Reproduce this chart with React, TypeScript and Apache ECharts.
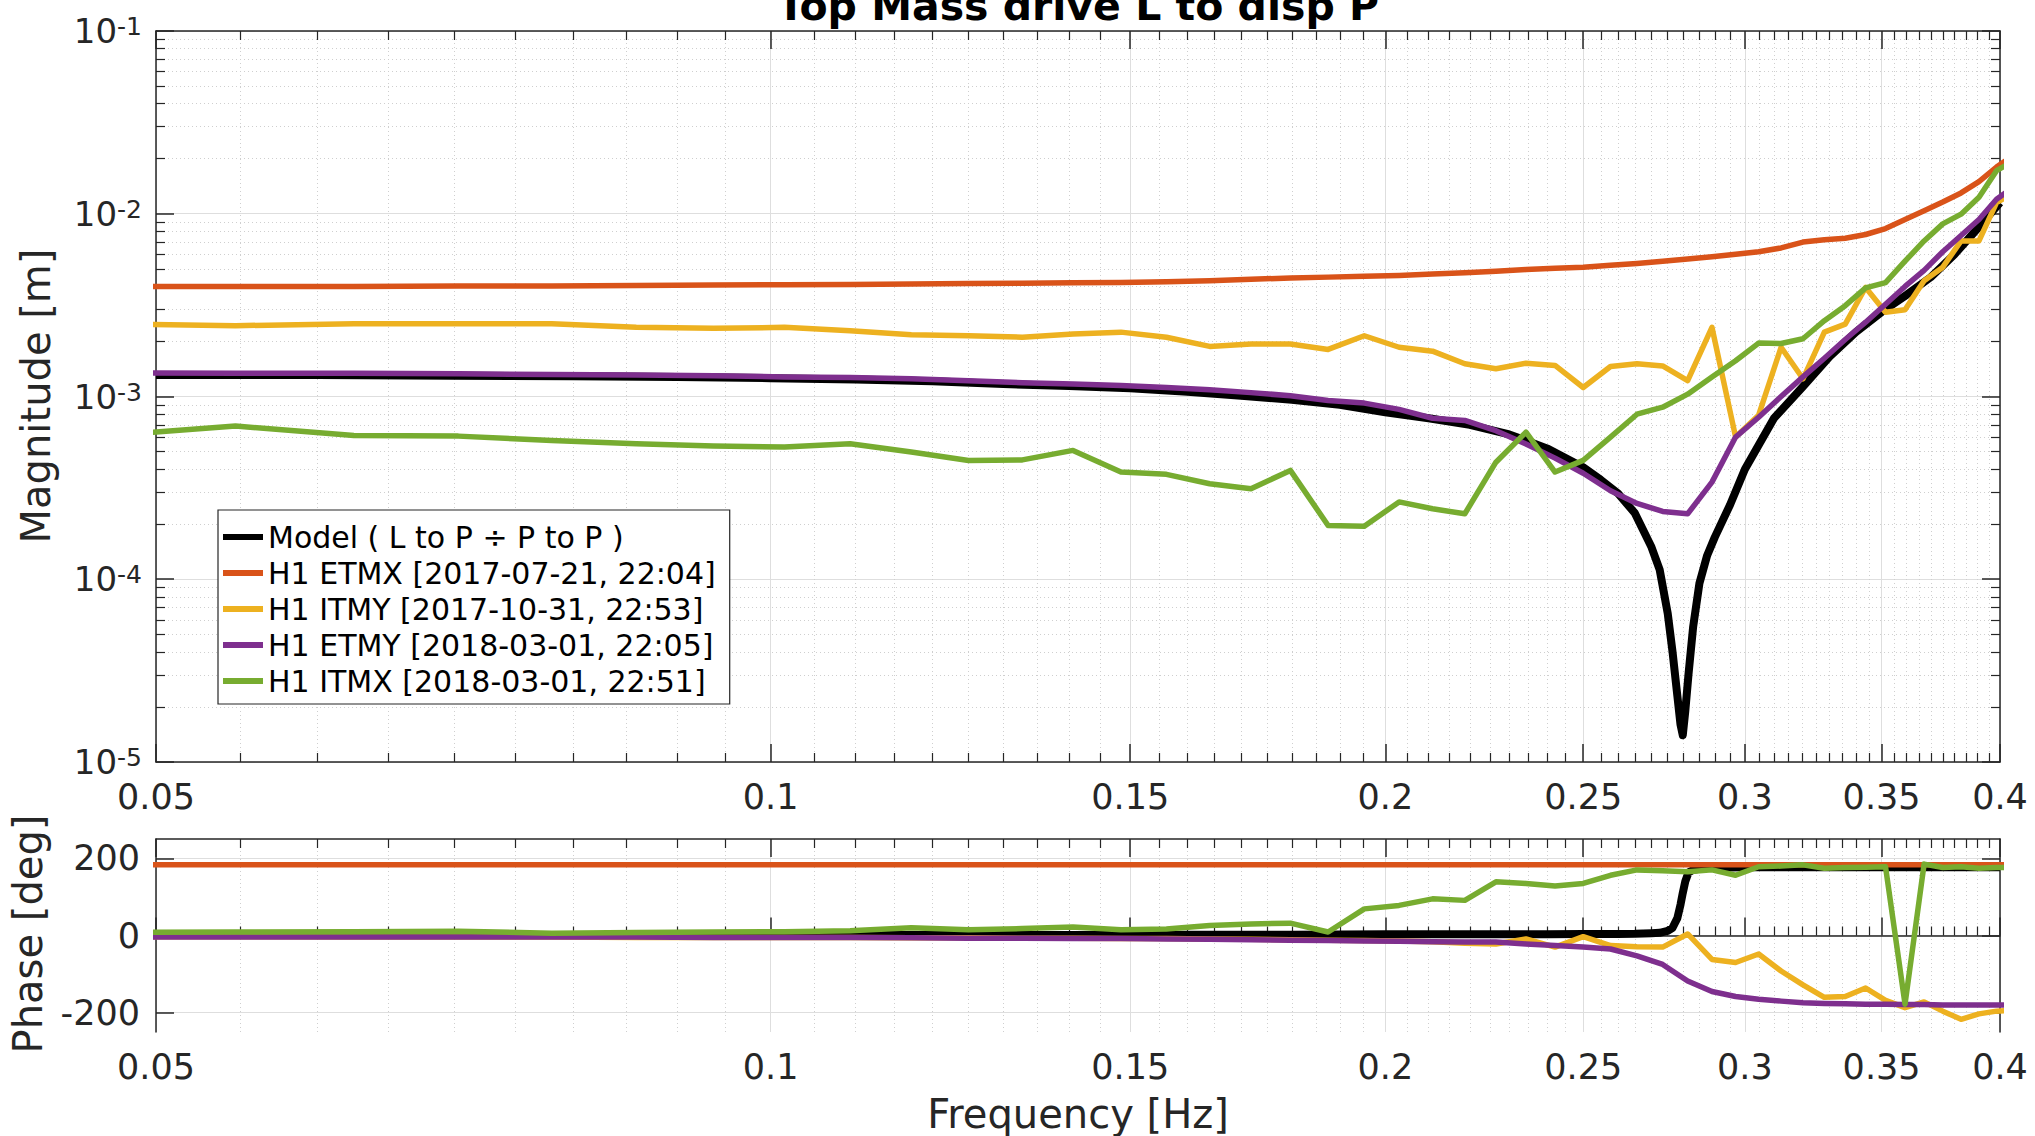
import React, { useEffect, useRef } from 'react';
import * as echarts from 'echarts';

const FONT = 'DejaVu Sans';
const INK = '#262626';

// ---------- data ----------
const seriesNames = [
  'Model ( L to P \u00f7 P to P )',
  'H1 ETMX [2017-07-21, 22:04]',
  'H1 ITMY [2017-10-31, 22:53]',
  'H1 ETMY [2018-03-01, 22:05]',
  'H1 ITMX [2018-03-01, 22:51]',
];
const seriesColors = ['#000000', '#D95319', '#EDB120', '#7E2F8E', '#77AC30'];

const modelFreq = [0.05, 0.06, 0.07, 0.08, 0.09, 0.1, 0.11, 0.12, 0.13, 0.14,
  0.15, 0.16, 0.17, 0.18, 0.19, 0.2, 0.21, 0.22, 0.23, 0.24,
  0.25, 0.255, 0.26, 0.265, 0.27, 0.2725, 0.275, 0.2765, 0.278, 0.279,
  0.2797, 0.2805, 0.2815, 0.283, 0.285, 0.2875, 0.29, 0.295, 0.3, 0.31,
  0.32, 0.33, 0.34, 0.35, 0.36, 0.37, 0.38, 0.39, 0.4];
const modelMag = [1.31e-3, 1.31e-3, 1.30e-3, 1.29e-3, 1.28e-3, 1.26e-3, 1.24e-3, 1.21e-3, 1.17e-3, 1.14e-3,
  1.11e-3, 1.06e-3, 1.01e-3, 9.6e-4, 9.0e-4, 8.2e-4, 7.6e-4, 7.0e-4, 6.2e-4, 5.2e-4,
  4.1e-4, 3.5e-4, 2.95e-4, 2.3e-4, 1.5e-4, 1.13e-4, 6.5e-5, 4.0e-5, 2.3e-5, 1.6e-5,
  1.4e-5, 1.9e-5, 3.0e-5, 5.5e-5, 9.5e-5, 1.35e-4, 1.7e-4, 2.55e-4, 4.0e-4, 7.6e-4,
  1.12e-3, 1.65e-3, 2.25e-3, 2.9e-3, 3.6e-3, 4.5e-3, 6.0e-3, 8.3e-3, 1.15e-2];
const modelPhase = [1, 1, 1, 1, 1, 1, 1, 1.5, 1.5, 1.5,
  2, 2, 2, 2, 2.5, 3, 3, 3, 3, 3.5,
  4, 4, 4, 4.5, 6, 7, 12, 20, 45, 80,
  110, 140, 163, 170, 173, 175, 176, 176, 177, 177,
  177, 177, 177, 177, 177, 177, 177, 177, 177];

const measFreq = [0.046875, 0.0546875, 0.0625, 0.0703125, 0.078125, 0.0859375, 0.09375, 0.1015625, 0.109375, 0.1171875,
  0.125, 0.1328125, 0.140625, 0.1484375, 0.15625, 0.1640625, 0.171875, 0.1796875, 0.1875, 0.1953125,
  0.203125, 0.2109375, 0.21875, 0.2265625, 0.234375, 0.2421875, 0.25, 0.2578125, 0.265625, 0.2734375,
  0.28125, 0.2890625, 0.296875, 0.3046875, 0.3125, 0.3203125, 0.328125, 0.3359375, 0.34375, 0.3515625,
  0.359375, 0.3671875, 0.375, 0.3828125, 0.390625, 0.3984375, 0.40625];

const etmxMag = [4.0e-3, 4.0e-3, 4.0e-3, 4.02e-3, 4.03e-3, 4.05e-3, 4.07e-3, 4.09e-3, 4.1e-3, 4.13e-3,
  4.15e-3, 4.17e-3, 4.19e-3, 4.21e-3, 4.25e-3, 4.3e-3, 4.38e-3, 4.45e-3, 4.5e-3, 4.55e-3,
  4.6e-3, 4.68e-3, 4.76e-3, 4.85e-3, 4.95e-3, 5.03e-3, 5.1e-3, 5.22e-3, 5.35e-3, 5.5e-3,
  5.65e-3, 5.82e-3, 6.0e-3, 6.2e-3, 6.5e-3, 7.0e-3, 7.2e-3, 7.35e-3, 7.7e-3, 8.3e-3,
  9.3e-3, 1.04e-2, 1.16e-2, 1.3e-2, 1.5e-2, 1.8e-2, 2.1e-2];
const etmxPhase = [183, 183, 183, 183, 183, 183, 183, 183, 183, 183,
  183, 183, 183, 183, 183, 183, 183, 183, 183, 183,
  183, 183, 183, 183, 183, 183, 183, 183, 183, 183,
  183, 183, 183, 183, 183, 183, 183, 183, 183, 183,
  183, 183, 183, 183, 183, 183, 183];

const itmyMag = [2.5e-3, 2.44e-3, 2.5e-3, 2.5e-3, 2.5e-3, 2.39e-3, 2.36e-3, 2.39e-3, 2.29e-3, 2.18e-3,
  2.15e-3, 2.11e-3, 2.2e-3, 2.25e-3, 2.11e-3, 1.88e-3, 1.94e-3, 1.94e-3, 1.81e-3, 2.15e-3,
  1.86e-3, 1.77e-3, 1.51e-3, 1.42e-3, 1.52e-3, 1.48e-3, 1.12e-3, 1.46e-3, 1.51e-3, 1.47e-3,
  1.22e-3, 2.39e-3, 6.0e-4, 7.9e-4, 1.86e-3, 1.25e-3, 2.25e-3, 2.49e-3, 3.95e-3, 2.89e-3,
  2.98e-3, 4.3e-3, 5.1e-3, 7.1e-3, 7.1e-3, 1.15e-2, 1.3e-2];
const itmyPhase = [-3, -3, -4, -4, -4, -5, -5, -5, -5, -6,
  -6, -7, -7, -8, -8, -9, -10, -11, -12, -13,
  -14, -16, -20, -22, -9, -30, -3, -26, -29, -30,
  4, -62, -70, -48, -92, -128, -160, -158, -136, -168,
  -187, -172, -196, -217, -203, -196, -194];

const etmyMag = [1.35e-3, 1.34e-3, 1.34e-3, 1.33e-3, 1.32e-3, 1.31e-3, 1.30e-3, 1.28e-3, 1.27e-3, 1.25e-3,
  1.22e-3, 1.19e-3, 1.17e-3, 1.15e-3, 1.12e-3, 1.09e-3, 1.05e-3, 1.01e-3, 9.5e-4, 9.2e-4,
  8.5e-4, 7.6e-4, 7.4e-4, 6.5e-4, 5.5e-4, 4.6e-4, 3.8e-4, 3.05e-4, 2.6e-4, 2.35e-4,
  2.28e-4, 3.4e-4, 6.0e-4, 7.7e-4, 1.0e-3, 1.28e-3, 1.62e-3, 2.05e-3, 2.55e-3, 3.2e-3,
  4.0e-3, 4.9e-3, 6.2e-3, 7.6e-3, 9.3e-3, 1.2e-2, 1.4e-2];
const etmyPhase = [-4, -4, -4, -4, -4, -4, -5, -5, -5, -6,
  -7, -7, -8, -8, -9, -10, -11, -12, -13, -14,
  -15, -16, -17, -17, -22, -26, -30, -35, -53, -75,
  -118, -145, -158, -165, -170, -174, -176, -177, -178, -178,
  -179, -179, -180, -180, -180, -180, -180];

const itmxMag = [6.05e-4, 6.89e-4, 6.12e-4, 6.07e-4, 5.75e-4, 5.52e-4, 5.36e-4, 5.29e-4, 5.52e-4, 4.97e-4,
  4.47e-4, 4.5e-4, 5.07e-4, 3.86e-4, 3.75e-4, 3.33e-4, 3.13e-4, 3.94e-4, 1.97e-4, 1.95e-4,
  2.65e-4, 2.43e-4, 2.28e-4, 4.37e-4, 6.38e-4, 3.86e-4, 4.47e-4, 6.0e-4, 8.0e-4, 8.74e-4,
  1.03e-3, 1.28e-3, 1.57e-3, 1.96e-3, 1.95e-3, 2.07e-3, 2.6e-3, 3.14e-3, 3.93e-3, 4.2e-3,
  5.5e-3, 7.1e-3, 8.8e-3, 9.95e-3, 1.23e-2, 1.72e-2, 1.95e-2];
const itmxPhase = [8, 9, 10, 11, 6, 8, 9, 10, 12, 20,
  15, 18, 22, 15, 17, 26, 30, 32, 9, 69,
  78, 95, 91, 139, 135, 128, 135, 156, 170, 168,
  165, 170, 156, 178, 180, 183, 174, 176, 177, 178,
  -178, 185, 176, 178, 174, 176, 176];

// ---------- axes ticks ----------
const xMajorTicks = [0.05, 0.1, 0.15, 0.2, 0.25, 0.3, 0.35, 0.4];
const xTickLabels = ['0.05', '0.1', '0.15', '0.2', '0.25', '0.3', '0.35', '0.4'];
const xMinorTicks = [0.055, 0.06, 0.065, 0.07, 0.075, 0.08, 0.085, 0.09, 0.095,
  0.105, 0.11, 0.115, 0.12, 0.125, 0.13, 0.135, 0.14, 0.145,
  0.155, 0.16, 0.165, 0.17, 0.175, 0.18, 0.185, 0.19, 0.195,
  0.205, 0.21, 0.215, 0.22, 0.225, 0.23, 0.235, 0.24, 0.245,
  0.255, 0.26, 0.265, 0.27, 0.275, 0.28, 0.285, 0.29, 0.295,
  0.305, 0.31, 0.315, 0.32, 0.325, 0.33, 0.335, 0.34, 0.345,
  0.355, 0.36, 0.365, 0.37, 0.375, 0.38, 0.385, 0.39, 0.395];
const magMajorTicks = [1e-5, 1e-4, 1e-3, 1e-2, 1e-1];
const magTickExponents = ['-5', '-4', '-3', '-2', '-1'];
const magMinorTicks = [
  2e-5, 3e-5, 4e-5, 5e-5, 6e-5, 7e-5, 8e-5, 9e-5,
  2e-4, 3e-4, 4e-4, 5e-4, 6e-4, 7e-4, 8e-4, 9e-4,
  2e-3, 3e-3, 4e-3, 5e-3, 6e-3, 7e-3, 8e-3, 9e-3,
  2e-2, 3e-2, 4e-2, 5e-2, 6e-2, 7e-2, 8e-2, 9e-2];
const phaseTicks = [-200, 0, 200];
const phaseTickLabels = ['-200', '0', '200'];

// ---------- option ----------
const pairs = (xs: number[], ys: number[]) => xs.map((x, i) => [x, ys[i]]);
const near = (a: number, b: number) => Math.abs(a - b) <= 1e-9 + Math.abs(b) * 1e-6;

const axisLineStyle = { color: INK, width: 1.5 };
const majorGrid = { color: '#dedede', width: 1 };
const minorGrid = { color: '#cfcfcf', width: 1, type: [1, 3] as any };

function xAxesFor(gridIndex: number) {
  const base = { type: 'log', logBase: 10, min: 0.05, max: 0.4, gridIndex, axisPointer: { show: false } };
  return [
    {
      ...base, position: 'bottom',
      axisLine: { show: true, lineStyle: axisLineStyle },
      axisTick: { show: true, inside: true, length: 18, customValues: xMajorTicks, lineStyle: axisLineStyle },
      axisLabel: {
        show: true, customValues: xMajorTicks, showMinLabel: true, showMaxLabel: true,
        formatter: (v: number) => { const i = xMajorTicks.findIndex(t => near(v, t)); return i < 0 ? '' : xTickLabels[i]; },
        fontFamily: FONT, fontSize: 35, color: INK, margin: 17,
      },
      splitLine: { show: true, customValues: xMajorTicks, lineStyle: majorGrid },
    },
    {
      ...base, position: 'bottom',
      axisLine: { show: false },
      axisTick: { show: true, inside: true, length: 9, customValues: xMinorTicks, lineStyle: { color: INK, width: 1.2 } },
      axisLabel: { show: false },
      splitLine: { show: true, customValues: xMinorTicks, lineStyle: minorGrid },
    },
    {
      ...base, position: 'top',
      axisLine: { show: true, lineStyle: axisLineStyle },
      axisTick: { show: true, inside: true, length: 18, customValues: xMajorTicks, lineStyle: axisLineStyle },
      axisLabel: { show: false },
      splitLine: { show: false },
    },
    {
      ...base, position: 'top',
      axisLine: { show: false },
      axisTick: { show: true, inside: true, length: 9, customValues: xMinorTicks, lineStyle: { color: INK, width: 1.2 } },
      axisLabel: { show: false },
      splitLine: { show: false },
    },
  ];
}

function magYAxes() {
  const base = { type: 'log', logBase: 10, min: 1e-5, max: 1e-1, gridIndex: 0, axisPointer: { show: false } };
  return [
    {
      ...base, position: 'left',
      axisLine: { show: true, lineStyle: axisLineStyle },
      axisTick: { show: true, inside: true, length: 18, customValues: magMajorTicks, lineStyle: axisLineStyle },
      axisLabel: {
        show: true, customValues: magMajorTicks, showMinLabel: true, showMaxLabel: true, margin: 14,
        formatter: (v: number) => {
          const i = magMajorTicks.findIndex(t => Math.abs(Math.log10(t) - Math.log10(v)) < 1e-6);
          return i < 0 ? '' : `{b|10}{s|${magTickExponents[i]}}`;
        },
        rich: {
          b: { fontFamily: FONT, fontSize: 34, color: INK, lineHeight: 34, padding: [10, 0, 0, 0], verticalAlign: 'bottom' },
          s: { fontFamily: FONT, fontSize: 25, color: INK, lineHeight: 25, verticalAlign: 'top' },
        },
      },
      splitLine: { show: true, customValues: magMajorTicks, lineStyle: majorGrid },
    },
    {
      ...base, position: 'left',
      axisLine: { show: false },
      axisTick: { show: true, inside: true, length: 9, customValues: magMinorTicks, lineStyle: { color: INK, width: 1.2 } },
      axisLabel: { show: false },
      splitLine: { show: true, customValues: magMinorTicks, lineStyle: minorGrid },
    },
    {
      ...base, position: 'right',
      axisLine: { show: true, lineStyle: axisLineStyle },
      axisTick: { show: true, inside: true, length: 18, customValues: magMajorTicks, lineStyle: axisLineStyle },
      axisLabel: { show: false },
      splitLine: { show: false },
    },
    {
      ...base, position: 'right',
      axisLine: { show: false },
      axisTick: { show: true, inside: true, length: 9, customValues: magMinorTicks, lineStyle: { color: INK, width: 1.2 } },
      axisLabel: { show: false },
      splitLine: { show: false },
    },
  ];
}

function phaseYAxes() {
  const base = { type: 'value', min: -250, max: 250, gridIndex: 1, axisPointer: { show: false } };
  return [
    {
      ...base, position: 'left',
      axisLine: { show: true, lineStyle: axisLineStyle },
      axisTick: { show: true, inside: true, length: 18, customValues: phaseTicks, lineStyle: axisLineStyle },
      axisLabel: {
        show: true, customValues: phaseTicks, margin: 16,
        formatter: (v: number) => { const i = phaseTicks.findIndex(t => near(v, t)); return i < 0 ? '' : phaseTickLabels[i]; },
        fontFamily: FONT, fontSize: 35, color: INK,
      },
      splitLine: { show: true, customValues: phaseTicks, lineStyle: majorGrid },
    },
    {
      ...base, position: 'right',
      axisLine: { show: true, lineStyle: axisLineStyle },
      axisTick: { show: true, inside: true, length: 18, customValues: phaseTicks, lineStyle: axisLineStyle },
      axisLabel: { show: false },
      splitLine: { show: false },
    },
  ];
}

function lineSeries(name: string, color: string, data: number[][], xi: number, yi: number, width: number) {
  return {
    type: 'line', name, data, xAxisIndex: xi, yAxisIndex: yi,
    color, showSymbol: false, symbol: 'none', clip: true, silent: true,
    lineStyle: { color, width, join: 'round', cap: 'butt' },
    emphasis: { disabled: true },
  };
}

function buildOption() {
  const magData = [pairs(modelFreq, modelMag), pairs(measFreq, etmxMag), pairs(measFreq, itmyMag), pairs(measFreq, etmyMag), pairs(measFreq, itmxMag)];
  const phaseData = [pairs(modelFreq, modelPhase), pairs(measFreq, etmxPhase), pairs(measFreq, itmyPhase), pairs(measFreq, etmyPhase), pairs(measFreq, itmxPhase)];
  const series: any[] = [];
  seriesNames.forEach((n, i) => series.push(lineSeries(n, seriesColors[i], magData[i], 0, 0, i === 0 ? 8 : 5.5)));
  seriesNames.forEach((n, i) => series.push(lineSeries(n, seriesColors[i], phaseData[i], 4, 4, i === 0 ? 8 : 5.5)));

  return {
    animation: false,
    backgroundColor: '#ffffff',
    grid: [
      { left: 156, top: 31, width: 1844, height: 731, containLabel: false },
      { left: 156, top: 839, width: 1844, height: 193, containLabel: false },
    ],
    xAxis: [...xAxesFor(0), ...xAxesFor(1)],
    yAxis: [...magYAxes(), ...phaseYAxes()],
    legend: {
      show: true, orient: 'vertical', left: 218, top: 510,
      data: seriesNames, selectedMode: false,
      itemWidth: 40, itemHeight: 6, itemGap: 6, icon: 'rect',
      padding: [12, 14, 8, 5],
      backgroundColor: '#ffffff', borderColor: INK, borderWidth: 1.2, borderRadius: 0,
      textStyle: { fontFamily: FONT, fontSize: 30, color: '#000', lineHeight: 30 },
      z: 10,
    },
    graphic: [
      { type: 'text', x: 1078, y: 6, z: 100, style: { text: 'Top Mass drive L to disp P', fontFamily: FONT, fontSize: 41, fontWeight: 'bold', fill: '#000', align: 'center', verticalAlign: 'middle' } },
      { type: 'text', x: 36, y: 396, rotation: Math.PI / 2, z: 100, style: { text: 'Magnitude [m]', fontFamily: FONT, fontSize: 40, fill: INK, align: 'center', verticalAlign: 'middle' } },
      { type: 'text', x: 28, y: 934, rotation: Math.PI / 2, z: 100, style: { text: 'Phase [deg]', fontFamily: FONT, fontSize: 40, fill: INK, align: 'center', verticalAlign: 'middle' } },
      { type: 'text', x: 1078, y: 1114, z: 100, style: { text: 'Frequency [Hz]', fontFamily: FONT, fontSize: 40, fill: INK, align: 'center', verticalAlign: 'middle' } },
    ],
    series,
  };
}

export default function App() {
  const ref = useRef<HTMLDivElement>(null);
  useEffect(() => {
    if (!ref.current) return;
    const chart = echarts.init(ref.current, null, { renderer: 'svg' });
    chart.setOption(buildOption() as any);
    return () => chart.dispose();
  }, []);
  return <div ref={ref} style={{ position: 'absolute', left: 0, top: 0, width: 2035, height: 1136, background: '#fff' }} />;
}
